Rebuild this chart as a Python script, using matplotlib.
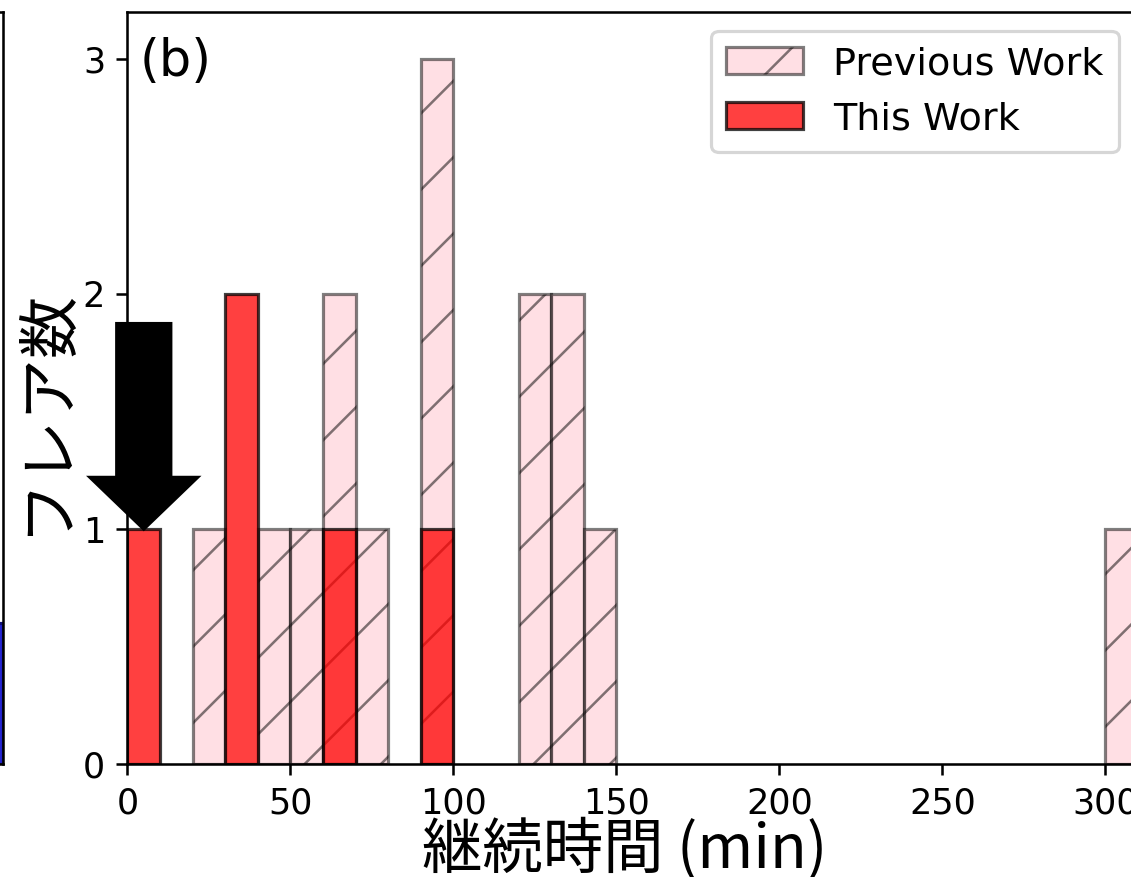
import numpy as np
import matplotlib.pyplot as plt

plt.rcParams['hatch.linewidth'] = 0.8
plt.rcParams['xtick.labelsize'] = 11
plt.rcParams['ytick.labelsize'] = 11
jp_font = ['Noto Sans CJK JP', 'DejaVu Sans']

# flare duration histogram, 10-minute bins (bin start -> number of flares)
bin_width = 10
prev_starts = [20, 40, 50, 60, 70, 90, 120, 130, 140, 300]
prev_counts = [1, 1, 1, 2, 1, 3, 2, 2, 1, 1]
this_starts = [0, 30, 60, 90]
this_counts = [1, 2, 1, 1]

# neighbouring panel (a), only its right edge shows
a_starts = [0.9]
a_counts = [3]

fig = plt.figure(figsize=(1131 / 229, 877 / 229), dpi=229)

ax_a = fig.add_axes([-0.5, 0.1285, 0.5027, 0.8582])
ax_a.bar(a_starts, a_counts, width=0.1, align='edge', color='#2424d0', edgecolor='#10107a')
ax_a.set_xlim(0, 1)
ax_a.set_ylim(0, 16)
ax_a.set_xticks([])
ax_a.set_yticks([])

ax = fig.add_axes([0.1127, 0.1285, 0.8935, 0.8582])
ax.bar(prev_starts, prev_counts, width=bin_width, align='edge', color='pink',
       alpha=0.5, hatch='/', edgecolor='black', label='Previous Work')
ax.bar(this_starts, this_counts, width=bin_width, align='edge', color='red',
       alpha=0.75, edgecolor='black', label='This Work')

ax.set_xlim(0, 310)
ax.set_ylim(0, 3.2)
ax.set_xticks([0, 50, 100, 150, 200, 250, 300])
ax.set_yticks([0, 1, 2, 3])

ax.legend(loc='upper right', fontsize=12)
ax.text(0.012, 0.966, '(b)', transform=ax.transAxes, fontsize=16, va='top', ha='left')

ax.set_xlabel('継続時間 (min)', family=jp_font, fontsize=19)
ax.xaxis.set_label_coords(0.492, -0.072)
ax.set_ylabel('フレア数', family=jp_font, fontsize=19.5)
ax.yaxis.set_label_coords(-0.050, 0.47)

# arrow pointing at the shortest flare of this work
tip_x = this_starts[0] + bin_width / 2
tip_y = this_counts[0]
ax.arrow(tip_x, 1.874, 0, tip_y - 1.874, width=16.6, head_width=33, head_length=0.22,
         length_includes_head=True, color='black', zorder=5, clip_on=False)

fig.text(0.5, 0.9943, '継続時間分布', family=jp_font, fontsize=13, color='red',
         ha='center', va='bottom')

fig.savefig('out.png', dpi=229)
